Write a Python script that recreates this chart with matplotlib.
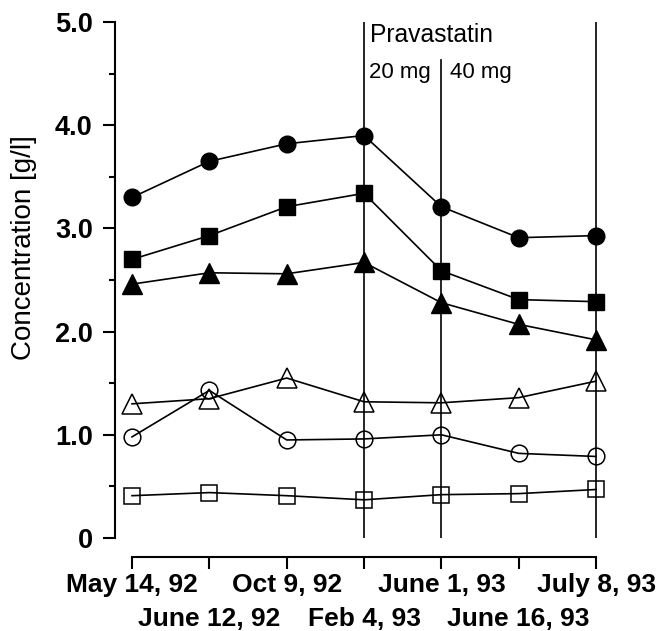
import matplotlib
matplotlib.use("Agg")
import matplotlib.pyplot as plt
from matplotlib.ticker import MultipleLocator, FixedLocator, FixedFormatter

plt.rcParams['font.family'] = ['Liberation Sans', 'DejaVu Sans']

dates = ["May 14, 92", "June 12, 92", "Oct 9, 92", "Feb 4, 93",
         "June 1, 93", "June 16, 93", "July 8, 93"]
x = list(range(len(dates)))

filled_circle = [3.30, 3.65, 3.82, 3.90, 3.21, 2.91, 2.93]
filled_square = [2.70, 2.93, 3.21, 3.34, 2.59, 2.31, 2.29]
filled_triangle = [2.46, 2.57, 2.56, 2.67, 2.28, 2.07, 1.92]
open_triangle = [1.30, 1.35, 1.55, 1.32, 1.31, 1.36, 1.52]
open_circle = [0.98, 1.43, 0.95, 0.96, 1.00, 0.82, 0.79]
open_square = [0.41, 0.44, 0.41, 0.37, 0.42, 0.43, 0.47]

yticks = [0, 1, 2, 3, 4, 5]
ytick_labels = ["0", "1.0", "2.0", "3.0", "4.0", "5.0"]

W, H = 658, 631
fig = plt.figure(figsize=(W / 100, H / 100), dpi=100)
ax = fig.add_axes([115 / W, 1 - 538 / H, 495 / W, 516 / H])
ax.set_xlim(-0.22, 6.18)
ax.set_ylim(0, 5)

# vertical treatment lines
ax.axvline(3, ymin=0, ymax=1, color='black', lw=1.2, zorder=1)
ax.axvline(4, ymin=0, ymax=0.926, color='black', lw=1.2, zorder=1)
ax.axvline(6, ymin=0, ymax=1, color='black', lw=1.2, zorder=1)

lw = 1.2
ax.plot(x, filled_circle, '-o', color='black', lw=lw, ms=12, mfc='black', zorder=3, clip_on=False)
ax.plot(x, filled_square, '-s', color='black', lw=lw, ms=11.5, mfc='black', zorder=3, clip_on=False)
ax.plot(x, filled_triangle, '-^', color='black', lw=lw, ms=14, mfc='black', zorder=3, clip_on=False)
ax.plot(x, open_triangle, '-^', color='black', lw=lw, ms=14, mfc='none', mew=1.1, zorder=3, clip_on=False)
ax.plot(x, open_circle, '-o', color='black', lw=lw, ms=12, mfc='none', mew=1.1, zorder=3, clip_on=False)
ax.plot(x, open_square, '-s', color='black', lw=lw, ms=11.5, mfc='none', mew=1.1, zorder=3, clip_on=False)

ax.text(3.08, 4.87, "Pravastatin", fontsize=17.7, va='center', ha='left')
ax.text(3.06, 4.51, "20 mg", fontsize=16, va='center', ha='left')
ax.text(4.11, 4.51, "40 mg", fontsize=16, va='center', ha='left')

# spines
for s in ['top', 'right']:
    ax.spines[s].set_visible(False)
ax.spines['left'].set_bounds(0, 5)
ax.spines['left'].set_linewidth(1.5)
ax.spines['bottom'].set_bounds(0, 6)
ax.spines['bottom'].set_position(('outward', 14))
ax.spines['bottom'].set_linewidth(1.5)

ax.set_yticks(yticks)
ax.set_yticklabels(ytick_labels, fontsize=19.5, fontweight='bold')
ax.yaxis.set_minor_locator(MultipleLocator(0.5))
ax.tick_params(axis='y', which='major', length=8.5, width=1.5, pad=7.5)
ax.tick_params(axis='y', which='minor', length=4, width=1.5)

# two rows of date labels: even positions on first row, odd on second row
even = [i for i in x if i % 2 == 0]
odd = [i for i in x if i % 2 == 1]
ax.xaxis.set_major_locator(FixedLocator(even))
ax.xaxis.set_major_formatter(FixedFormatter([dates[i] for i in even]))
ax.xaxis.set_minor_locator(FixedLocator(odd))
ax.xaxis.set_minor_formatter(FixedFormatter([dates[i] for i in odd]))
ax.tick_params(axis='x', which='major', length=8.5, width=1.5, pad=3, labelsize=19)
ax.tick_params(axis='x', which='minor', length=8.5, width=1.5, pad=27, labelsize=19)
for lab in ax.xaxis.get_majorticklabels() + ax.xaxis.get_minorticklabels():
    lab.set_fontweight('bold')

ax.set_ylabel("Concentration [g/l]", fontsize=20)
ax.yaxis.set_label_coords(-0.158, 0.562)

fig.savefig("out.png", dpi=100)
